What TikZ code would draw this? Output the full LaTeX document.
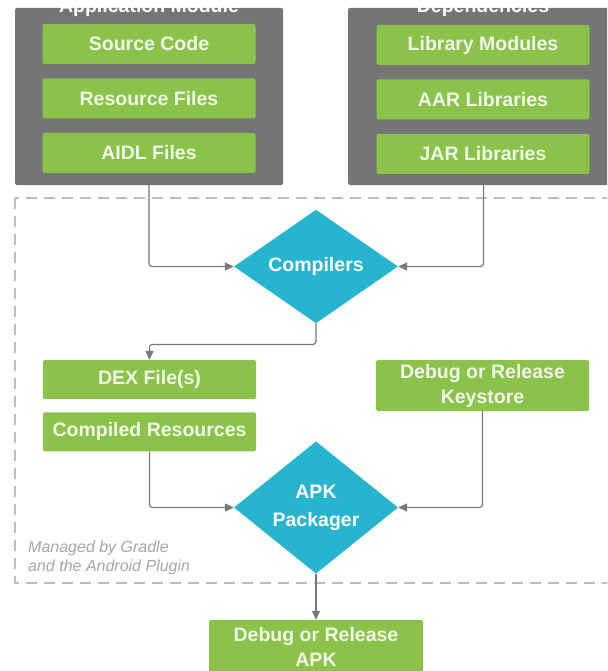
\documentclass[tikz,border=0pt]{standalone}
\usepackage{fontspec}
\setmainfont{Liberation Sans}
\usepackage{tikz}
\usetikzlibrary{positioning}
\usetikzlibrary{arrows.meta}
\usetikzlibrary{shapes.geometric}

\definecolor{boxgreen}{HTML}{8BC34A}
\definecolor{boxtext}{HTML}{F1F8E9}
\definecolor{modgray}{HTML}{757575}
\definecolor{toolteal}{HTML}{27B4CF}
\definecolor{linegray}{HTML}{777777}
\definecolor{framegray}{HTML}{BDBDBD}
\definecolor{notegray}{HTML}{A6A6A6}

\begin{document}
\begin{tikzpicture}[x=1pt, y=-1pt,
    file/.style={fill=boxgreen, text=boxtext, rounded corners=1.5pt,
      minimum width=213pt, minimum height=40pt, inner sep=0pt, align=center,
      font=\fontsize{19.5}{25}\selectfont\bfseries},
    module/.style={fill=modgray, rounded corners=2pt, inner sep=0pt},
    tool/.style={diamond, fill=toolteal, text=white, minimum width=164pt,
      minimum height=101pt, inner sep=0pt, align=center,
      font=\fontsize{19.5}{28}\selectfont\bfseries},
    flow/.style={draw=linegray, line width=1.2pt, rounded corners=3pt,
      -{Triangle[length=9pt,width=8pt]}},
    node distance=14pt]
    \useasboundingbox (0,0) rectangle (607,671);
    \clip (0,0) rectangle (607,671);

    \draw[framegray, line width=1.8pt, dash pattern=on 11pt off 7pt]
      (15,198) rectangle (640,583);

    \node(app) [module, minimum width=268pt, minimum height=177pt] at (149,96.5) {};
    \node(deps) [module, minimum width=271pt, minimum height=177pt] at (483.5,96.5) {};
    \node(apptitle) [anchor=base, text=white, font=\fontsize{19.5}{24}\selectfont\bfseries]
      at (149,13) {Application Module};
    \node(depstitle) [anchor=base, text=white, font=\fontsize{19.5}{24}\selectfont\bfseries]
      at (483,13) {Dependencies};

    \node(src) [file] at (149,44) {Source Code};
    \node(res) [file, below=of src] {Resource Files};
    \node(aidl) [file, below=of res] {AIDL Files};
    \node(lib) [file] at (483,45) {Library Modules};
    \node(aar) [file, below=of lib] {AAR Libraries};
    \node(jar) [file, below=of aar] {JAR Libraries};

    \node(comp) [tool] at (316,266.5) {Compilers};
    \node(dex) [file, minimum height=39pt] at (149.5,379.5) {DEX File(s)};
    \node(cres) [file, minimum height=39pt, below=13pt of dex] {Compiled Resources};
    \node(keys) [file, minimum height=51pt] at (482.5,385.5) {Debug or Release\\Keystore};
    \node(apk) [tool] at (316,507.5) {APK\\Packager};
    \node(out) [file, minimum width=214pt, minimum height=54pt] at (316,647) {Debug or Release\\APK};

    \node(note) [anchor=west, align=left, text=notegray, inner sep=0pt,
      font=\fontsize{16}{19}\selectfont\itshape] at (28,557.5)
      {Managed by Gradle\\and the Android Plugin};

    \draw[flow] (app.south) |- (comp.west);
    \draw[flow] (deps.south) |- (comp.east);
    \draw[flow] (comp.south) -- ++(0,21) -| (dex.north);
    \draw[flow] (cres.south) |- (apk.west);
    \draw[flow] (keys.south) |- (apk.east);
    \draw[flow] (apk.south) -- (out.north);
\end{tikzpicture}
\end{document}
